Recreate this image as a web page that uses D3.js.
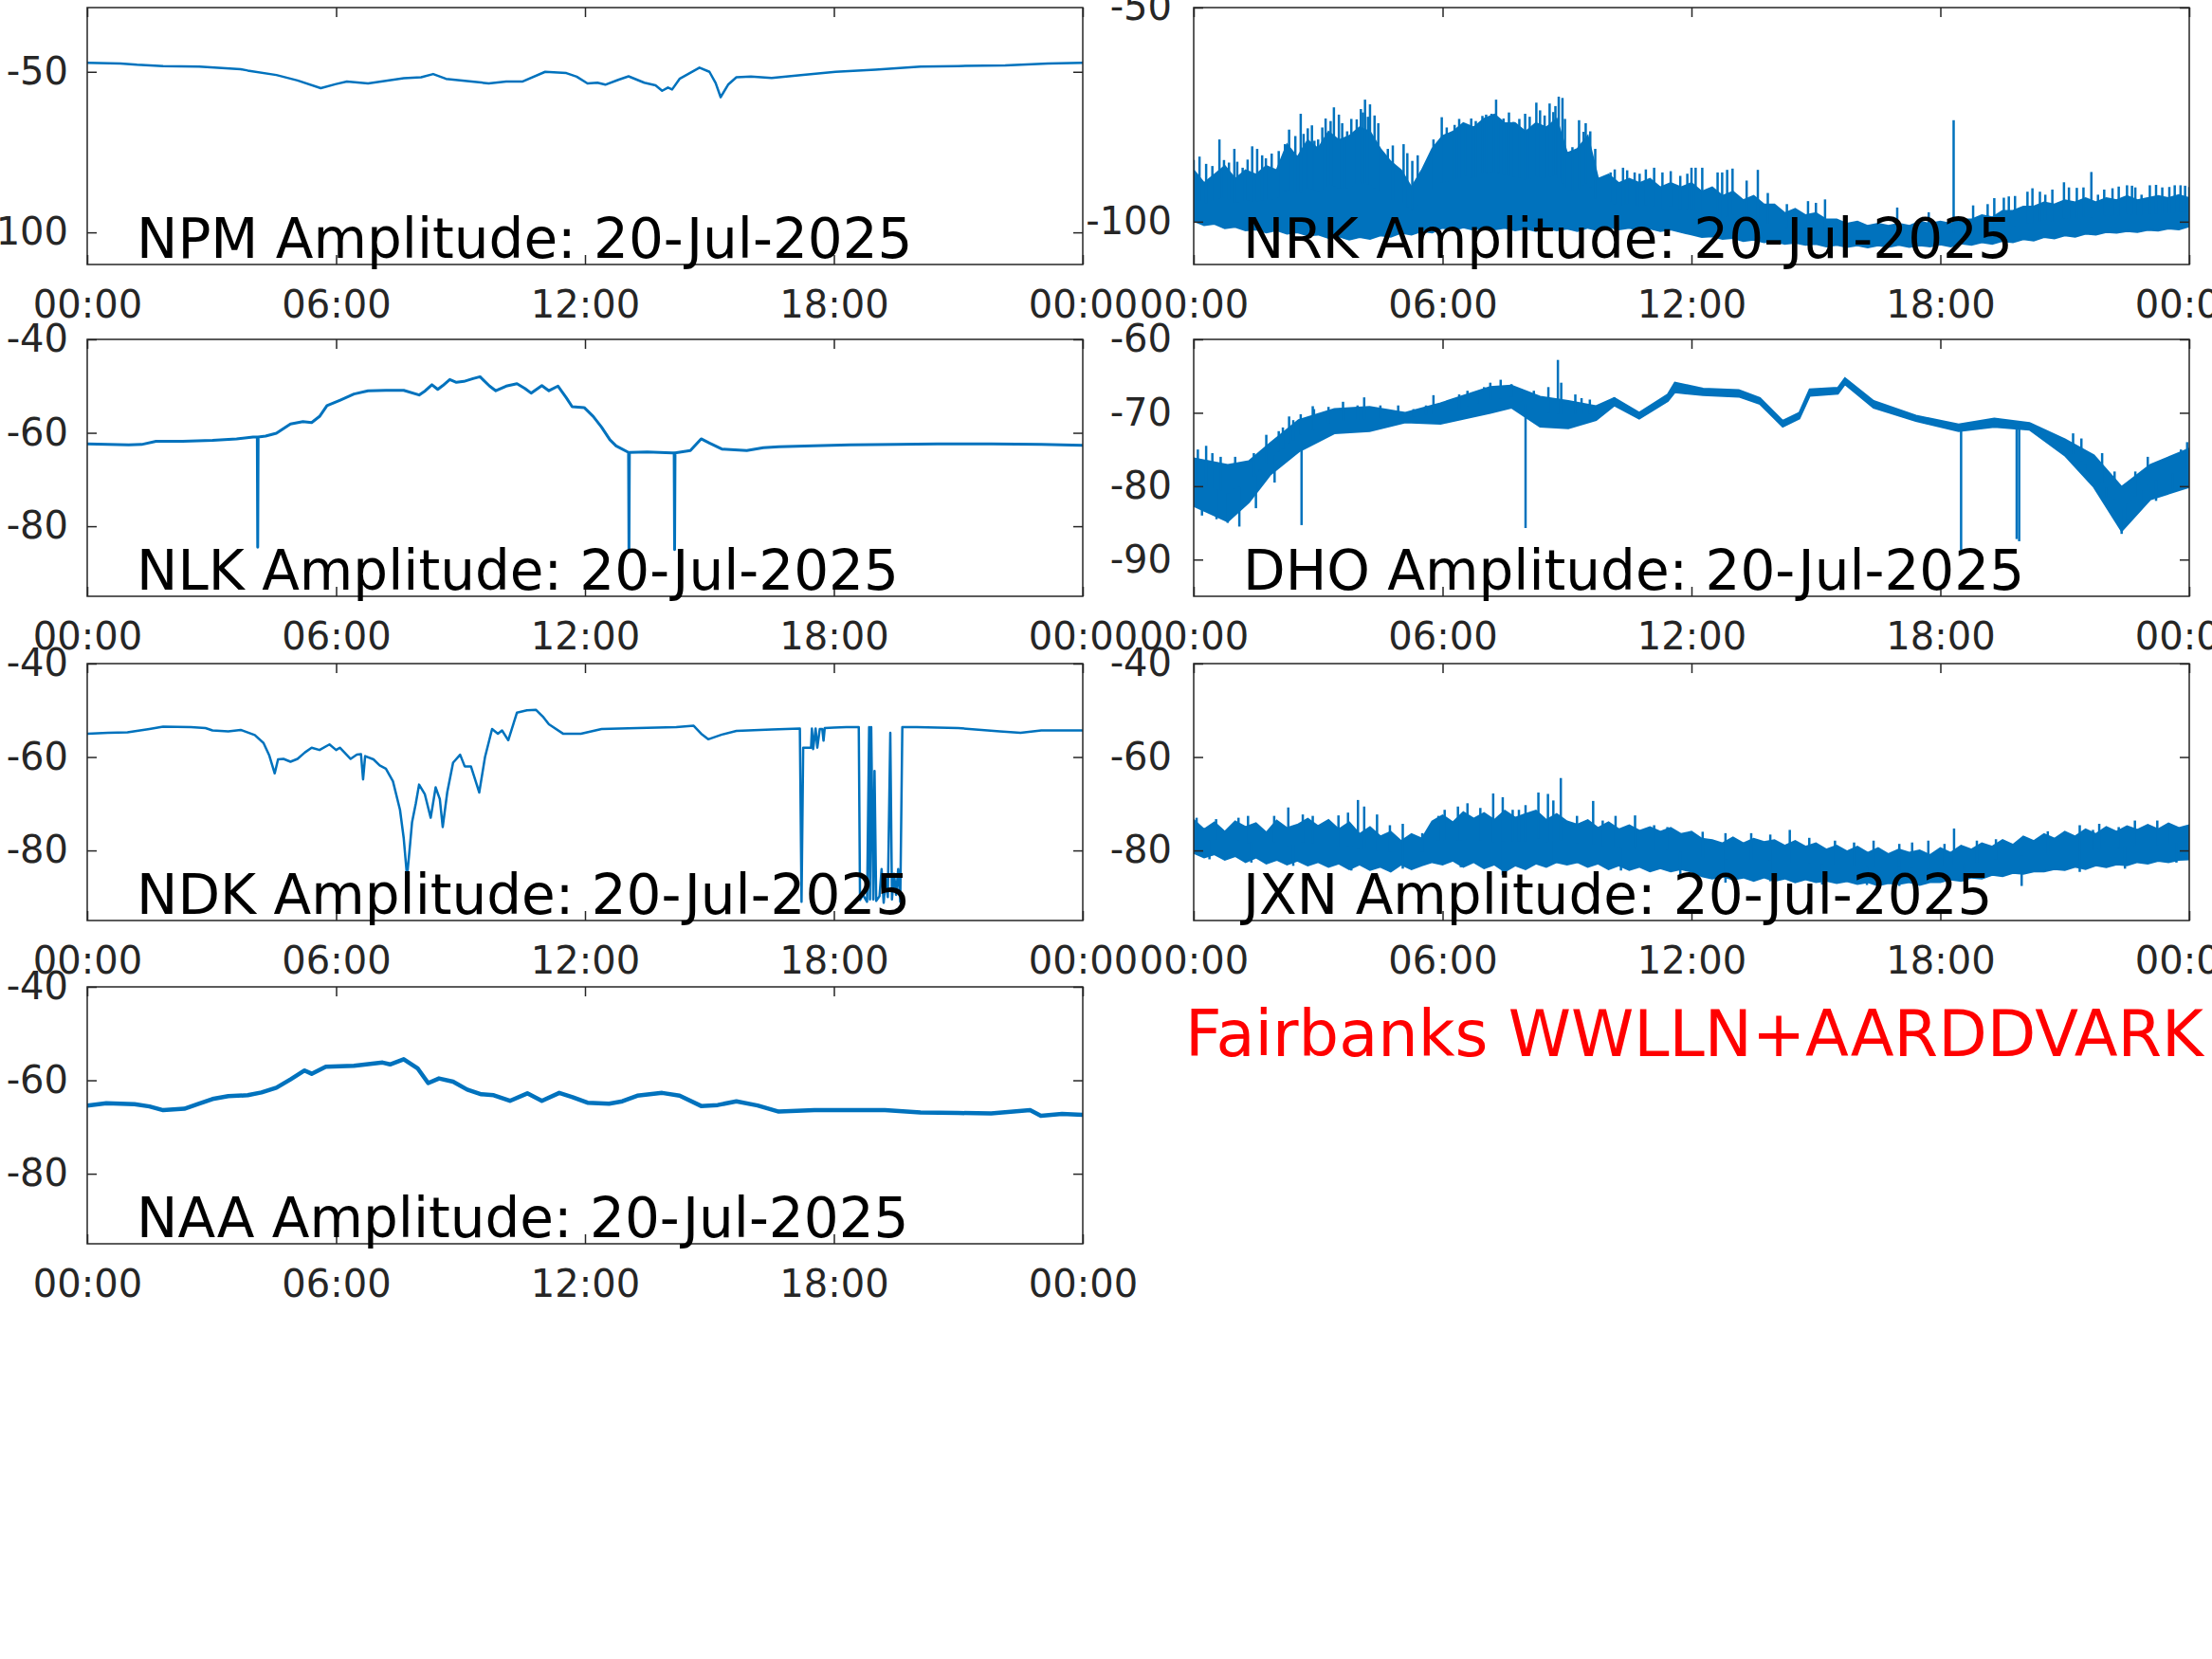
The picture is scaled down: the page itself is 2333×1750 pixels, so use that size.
<!DOCTYPE html>
<html><head><meta charset="utf-8">
<script src="https://cdn.jsdelivr.net/npm/d3@7"></script>
<style>
html,body{margin:0;padding:0;background:#fff;overflow:hidden}
svg{display:block}
</style></head><body>
<svg id="chart" width="2333" height="1750"></svg>
<script>
// ---------------- DATA ----------------
const dateLabel = "20-Jul-2025";
const footnote = "Fairbanks WWLLN+AARDDVARK";
const hourTicks = [0, 6, 12, 18, 24];
const hourTickLabels = ["00:00", "06:00", "12:00", "18:00", "00:00"];

// sample times (hours) of the envelope readings of the noisy records
const quarterHours = [0,0.25,0.5,0.75,1,1.25,1.5,1.75,2,2.25,2.5,2.75,3,3.25,3.5,3.75,4,4.25,4.5,4.75,5,5.25,5.5,5.75,6,6.25,6.5,6.75,7,7.25,7.5,7.75,8,8.25,8.5,8.75,9,9.25,9.5,9.75,10,10.25,10.5,10.75,11,11.25,11.5,11.75,12,12.25,12.5,12.75,13,13.25,13.5,13.75,14,14.25,14.5,14.75,15,15.25,15.5,15.75,16,16.25,16.5,16.75,17,17.25,17.5,17.75,18,18.25,18.5,18.75,19,19.25,19.5,19.75,20,20.25,20.5,20.75,21,21.25,21.5,21.75,22,22.25,22.5,22.75,23,23.25,23.5,23.75,24];

// NPM (thin line)
const npmT = [0,0.8,1.2,1.83,2.7,3.7,3.87,4.56,5.07,5.63,6.0,6.26,6.77,7.2,7.63,8.05,8.34,8.65,9.1,9.68,10.1,10.5,11.04,11.55,11.8,12.06,12.3,12.49,12.8,13.05,13.43,13.7,13.86,14.0,14.1,14.28,14.76,15.0,15.15,15.27,15.45,15.65,16.0,16.5,17.2,18.04,19.0,20.09,21.0,22.13,23.16,24];
const npmV = [-47.2,-47.4,-47.8,-48.2,-48.4,-49.2,-49.6,-51,-52.7,-55.1,-53.8,-53,-53.6,-52.8,-52,-51.7,-50.7,-52.2,-52.8,-53.6,-53,-53,-50,-50.4,-51.5,-53.6,-53.4,-54,-52.5,-51.4,-53.4,-54.2,-55.9,-54.9,-55.5,-52.2,-48.7,-50,-53.5,-57.9,-54,-51.7,-51.5,-51.9,-51,-50,-49.3,-48.4,-48.2,-48,-47.4,-47.2];

// NLK (thin line with drop-outs)
const nlkT = [0,0.5,1.0,1.31,1.66,2.3,3.02,3.6,4.0,4.1,4.11,4.12,4.3,4.56,4.9,5.2,5.41,5.6,5.78,6.1,6.43,6.77,7.2,7.63,8.0,8.15,8.31,8.45,8.57,8.74,8.9,9.08,9.3,9.47,9.7,9.85,10.1,10.36,10.55,10.7,10.96,11.13,11.35,11.55,11.69,11.98,12.2,12.4,12.6,12.75,13.05,13.06,13.07,13.5,14.1,14.15,14.16,14.17,14.54,14.8,15.0,15.31,15.9,16.3,16.67,17.5,18.38,19.5,20.5,21.8,23,24];
const nlkV = [-62.4,-62.5,-62.6,-62.5,-61.8,-61.8,-61.6,-61.3,-60.9,-60.9,-84.5,-60.9,-60.7,-60.1,-58.1,-57.6,-57.8,-56.5,-54.2,-53,-51.7,-51,-50.9,-50.9,-51.9,-51,-49.7,-50.7,-49.9,-48.6,-49.2,-49,-48.4,-48,-50,-51,-50,-49.5,-50.5,-51.5,-49.9,-51,-50,-52.5,-54.4,-54.6,-56.5,-58.8,-61.5,-62.8,-64.2,-84.9,-64.2,-64.1,-64.3,-64.3,-85,-64.3,-63.8,-61.3,-62.2,-63.5,-63.8,-63.2,-63,-62.8,-62.6,-62.5,-62.4,-62.4,-62.5,-62.7];

// NDK (thin line with drop-outs)
const ndkT = [0,0.5,0.97,1.5,1.83,2.5,2.85,3.02,3.4,3.7,4.04,4.25,4.39,4.52,4.6,4.73,4.9,5.07,5.25,5.41,5.6,5.84,6.0,6.09,6.35,6.5,6.6,6.65,6.7,6.9,7.05,7.2,7.37,7.54,7.63,7.71,7.78,7.83,7.92,8.0,8.14,8.28,8.4,8.5,8.57,8.68,8.82,8.99,9.1,9.25,9.45,9.59,9.76,9.9,10.0,10.15,10.36,10.6,10.82,11.0,11.13,11.47,11.9,12.4,13.26,14.2,14.62,14.8,14.97,15.3,15.65,16.5,17.18,17.22,17.26,17.45,17.47,17.5,17.56,17.6,17.66,17.72,17.75,17.78,18.0,18.3,18.6,18.63,18.7,18.8,18.85,18.87,18.9,18.95,18.98,19.02,19.1,19.15,19.2,19.25,19.3,19.36,19.4,19.45,19.5,19.55,19.6,19.65,20,21,22,22.5,23,24];
const ndkV = [-55,-54.8,-54.7,-54,-53.5,-53.6,-53.8,-54.3,-54.5,-54.2,-55.3,-57,-59.7,-63.5,-60.5,-60.4,-61,-60.4,-59,-58,-58.5,-57.3,-58.5,-58,-60.4,-59.5,-59.4,-64.8,-59.8,-60.5,-61.8,-62.5,-65.2,-71.3,-77.4,-85.6,-79,-74,-70,-65.9,-68,-73,-66.5,-69,-75,-67.5,-61.2,-59.5,-62,-62,-67.6,-60,-54,-55,-54.3,-56.4,-50.5,-50,-49.9,-51.5,-53,-55,-55,-54,-53.8,-53.6,-53.3,-55,-56.2,-55.2,-54.4,-54.1,-53.9,-91,-58,-58,-53.9,-58.3,-53.9,-58,-54,-54,-56.5,-53.8,-53.7,-53.6,-53.6,-90.6,-89.5,-91,-53.6,-90.5,-53.6,-90.5,-63,-90.8,-89.8,-84,-91.2,-86,-90,-54.8,-90.5,-85,-89.5,-84,-91,-53.6,-53.6,-53.8,-54.5,-54.8,-54.3,-54.3];

// NAA (thin line)
const naaT = [0,0.46,1.14,1.5,1.83,2.34,2.7,3.02,3.4,3.87,4.2,4.56,4.9,5.24,5.41,5.75,6.43,7.12,7.3,7.63,7.97,8.22,8.48,8.82,9.16,9.5,9.8,10.19,10.61,10.96,11.38,11.7,12.06,12.58,12.9,13.26,13.86,14.28,14.8,15.2,15.65,16.16,16.67,17.53,18.38,19.23,20.09,21.0,21.79,22.73,22.99,23.5,24];
const naaV = [-65.4,-64.9,-65.1,-65.6,-66.4,-66.1,-65,-64,-63.4,-63.2,-62.6,-61.6,-59.8,-57.9,-58.6,-57.1,-56.9,-56.2,-56.6,-55.5,-57.5,-60.6,-59.6,-60.3,-62,-63,-63.2,-64.4,-62.8,-64.4,-62.7,-63.6,-64.8,-65,-64.5,-63.3,-62.7,-63.3,-65.5,-65.3,-64.5,-65.4,-66.7,-66.4,-66.4,-66.4,-66.9,-67,-67.1,-66.4,-67.6,-67.2,-67.4];

// NRK (noisy: envelope band + spikes), envelope read every quarter hour
const nrkUpper = [-88,-91,-89,-87,-90,-88,-89,-87,-88,-82,-85,-81,
  -83,-79,-81,-80,-78,-79,-83,-86,-88,-92,-88,-83,
  -80,-79,-77,-78,-76,-75,-77,-77,-79,-77,-78,-76,
  -84,-83,-80,-90,-89,-91,-90,-91,-90,-92,-91,-92,
  -91,-93,-92,-94,-93,-95,-94,-96,-96,-98,-97,-98.5,
  -98,-99.5,-99.5,-100.5,-100,-101,-100.5,-101,-100.5,-101,-100,-100.5,
  -100,-100.5,-99.5,-99.5,-98.5,-99,-97.5,-97.5,-96.5,-96.5,-95.5,-96,
  -95,-95.5,-94.5,-95.5,-94.5,-95,-94,-95,-94.5,-94,-94.5,-93.8,-94.5];
const nrkLower = [-99.8,-100.8,-100.5,-101.5,-101.2,-102,-101.8,-102.5,-102,-102.8,-102.5,-103.2,
  -103,-103.8,-103.4,-104.2,-103.6,-104,-103.2,-103.5,-102.6,-103,-102.2,-102.5,
  -101.4,-102,-101.3,-101.9,-101.2,-101.8,-101.4,-102,-101.6,-102.2,-101.5,-102,
  -101.6,-102.2,-101.4,-102,-101.2,-101.8,-101.4,-102,-101.6,-102.2,-101.8,-102.4,
  -103,-103.6,-103.4,-104,-103.8,-104.5,-104.2,-104.8,-104.6,-105.2,-104.9,-105.4,
  -105.2,-105.8,-105.4,-105.9,-105.5,-106,-105.5,-105.9,-105.4,-105.9,-105.5,-105.8,
  -105.3,-105.8,-105.1,-105.4,-104.8,-105.2,-104.5,-104.8,-104.1,-104.4,-103.6,-103.9,
  -103.2,-103.5,-102.8,-103,-102.4,-102.6,-102.2,-102.4,-101.9,-102.1,-101.6,-101.8,-101.1];
const nrkSpikeT = [0,0.14,0.3,0.45,0.62,0.73,0.85,0.98,1.05,1.18,1.3,1.41,1.53,1.65,1.74,1.88,2.05,2.2,2.3,2.45,2.58,2.65,2.75,2.85,2.91,3.0,3.1,3.18,3.3,3.38,3.5,3.58,3.7,3.8,3.93,4.03,4.08,4.13,4.2,4.25,4.36,4.45,4.68,4.8,5.06,5.15,5.27,5.4,5.78,5.98,6.1,6.29,6.4,6.55,6.69,6.8,6.96,7.05,7.18,7.29,7.35,7.47,7.6,7.71,7.85,7.99,8.1,8.26,8.35,8.46,8.58,8.67,8.72,8.8,8.89,8.95,9.13,9.29,9.4,9.45,9.56,9.68,10.05,10.15,10.35,10.45,10.63,10.75,10.9,11.1,11.3,11.5,11.73,11.9,12.0,12.1,12.26,12.63,12.74,12.86,12.99,13.33,13.6,13.84,14.3,14.81,15.0,15.22,16.96,17.72,18.32,18.79,19.14,19.3,19.53,19.65,19.8,20.1,20.22,20.4,20.53,20.7,20.98,21.1,21.29,21.45,21.64,21.8,21.95,22.15,22.3,22.5,22.62,22.7,22.85,23.05,23.2,23.35,23.52,23.65,23.79,23.9,24];
const nrkSpikeV = [-85.6,-84.8,-86.5,-87,-80.8,-85.6,-86.2,-83,-86,-87.4,-85.5,-82.4,-83,-84.5,-85.2,-84.1,-83.5,-81.9,-78.5,-80,-74.8,-79.5,-78.2,-77.5,-81.1,-80.8,-78,-75.9,-76.5,-73.3,-75,-77,-78.9,-76,-76.1,-73.7,-74.5,-71.5,-75.5,-72.6,-75.2,-77,-83,-82.2,-81.9,-84,-85.8,-84.5,-80.8,-75.6,-78,-77.4,-76,-77.5,-75.9,-76.5,-75.3,-75,-74.8,-71.5,-76.2,-75.9,-74.5,-76.7,-76,-74.8,-75.5,-72.2,-74,-75.2,-72.4,-74.4,-73,-70.8,-71.1,-76,-82.6,-76.3,-79,-77,-78.9,-83,-88.5,-87.8,-87.4,-88,-88.5,-88.8,-87.8,-87.4,-88.5,-88.2,-89.3,-88.8,-87.4,-87.4,-87.4,-88.5,-88.5,-87.9,-87.6,-90.4,-87.9,-93.3,-95.9,-95.2,-95.6,-94.8,-96.7,-97.8,-76.3,-96.2,-95.9,-94.5,-94.4,-94.1,-94,-93,-92.2,-93,-93.7,-92.5,-90.8,-92,-92.1,-92,-88.4,-93.7,-92.5,-92.2,-91.8,-91.5,-91.6,-92,-93.7,-91.5,-91.4,-92,-91.9,-91.5,-91.5,-91.6,-91.9];

// DHO (noisy: envelope band + spikes)
const dhoT = [0,0.82,1.33,1.85,2.53,3.39,4.24,5.1,5.95,7.15,7.66,8.35,9.03,9.7,10.14,10.74,11.43,11.6,12.28,13.14,13.65,14.2,14.6,14.85,15.53,15.7,16.39,17.41,18.44,19.3,20.15,21.0,21.7,22.37,23.06,24];
const dhoUpper = [-76.2,-77.1,-76.6,-74.1,-71,-69.5,-69.2,-70,-68.7,-66.5,-66.3,-67.8,-68.4,-69.1,-68,-70,-67.5,-65.9,-66.7,-66.9,-68,-71.1,-70,-66.8,-66.6,-65.3,-68.4,-70.4,-71.6,-70.8,-71.4,-73.6,-75.8,-80.1,-77.1,-74.9];
const dhoLower = [-82.7,-84.8,-82.2,-78.4,-75.3,-72.8,-72.5,-71.3,-71.5,-70,-69.3,-71.9,-72.1,-71,-69,-70.8,-68.4,-67.2,-67.6,-67.8,-68.8,-71.9,-70.8,-67.7,-67.4,-66.1,-69.3,-71.1,-72.5,-71.9,-72.3,-75.8,-80.1,-86.1,-81.8,-80.1];
const dhoSpikeT = [0.1,0.2,0.3,0.45,0.55,0.65,0.82,1.0,1.1,1.45,1.5,1.6,1.75,1.95,2.05,2.15,2.3,2.4,2.58,2.6,2.87,2.9,3.25,3.6,3.95,4.11,4.5,4.93,5.3,5.6,5.78,6.2,6.4,6.6,6.85,7.0,7.15,7.4,7.66,7.9,8.0,8.2,8.55,8.78,8.86,9.2,9.35,9.55,10.14,18.5,19.84,19.9,21.2,21.4,21.5,21.9,22.0,22.2,22.37,22.5,22.6,22.7,22.85,23.0,23.2,23.4,23.6,23.8,23.95];
const dhoSpikeV = [-75,-84,-74.5,-75.5,-84.5,-76,-85,-76,-85.5,-75.5,-83,-78,-73,-79.5,-72.5,-72,-70.5,-71,-70.2,-85.3,-69.1,-69.5,-69.2,-68.5,-69,-67.9,-69,-69,-69.5,-69,-67.6,-68.5,-67.5,-67,-67.5,-66.5,-65.9,-65.5,-66.1,-66.8,-85.7,-67,-66.5,-62.8,-65.9,-67.5,-68,-68.2,-67.9,-88.7,-87.2,-87.5,-72.8,-73.5,-78.5,-75.5,-81.5,-78,-86.5,-84.5,-84.5,-78,-83,-76,-82,-76.5,-80.5,-75,-74];

// JXN (noisy: envelope band + spikes), envelope read every quarter hour
const jxnUpper = [-73.5,-75.5,-74,-76,-73.8,-75,-74.2,-76.2,-73.6,-75.2,-74.5,-73.2,
  -74.8,-73.5,-75.5,-74,-76.5,-75,-77,-76,-78,-76.5,-77.5,-73.8,
  -72.5,-74,-71.8,-73.2,-72,-73.5,-71.5,-73,-72.2,-71.5,-73.5,-72.2,
  -73.8,-74.5,-73.5,-75.2,-74,-75.5,-74.6,-75.8,-75,-76,-75.2,-76.5,
  -76,-77.5,-77.8,-78.5,-77.2,-78.5,-77.5,-78.2,-77.8,-79,-78,-79.2,
  -78.5,-79.8,-79,-80.2,-79.2,-80.5,-79.5,-80.8,-79.8,-80.5,-80,-81,
  -79.5,-80.5,-79,-79.8,-78.5,-79.2,-77.8,-78.8,-77,-78,-76.5,-77.5,
  -76,-77,-75.5,-76.5,-75,-76,-74.8,-75.6,-74.5,-75.5,-74.2,-75.2,-74.6];
const jxnLower = [-80.5,-81.5,-80.8,-82,-81.2,-82.5,-81.5,-82.8,-82,-83,-82.2,-83.2,
  -82.5,-83.5,-82.8,-84,-83,-84.2,-83.5,-84.5,-83,-84,-83.2,-82.5,
  -83,-82.2,-83.5,-82.5,-83.8,-83,-84.5,-83.2,-84,-82.8,-83.5,-82.5,
  -83,-82.5,-83.5,-82.8,-84,-83.2,-84.2,-83.5,-84.5,-83.8,-84.5,-84,
  -84.5,-85.5,-86,-85.5,-86.2,-85.8,-86.5,-85.8,-86.5,-86,-86.8,-86.2,
  -86.8,-86.5,-87,-86.6,-87.2,-86.8,-87.5,-87,-87.2,-86.8,-87.4,-86.8,
  -86.8,-86.2,-86.5,-85.8,-86,-85.2,-85.5,-84.8,-85,-84.5,-84.5,-84,
  -84.2,-83.5,-84,-83.2,-83.6,-83,-83.2,-82.5,-82.8,-82.2,-82.5,-82,-81.9];
const jxnSpikeT = [0.07,0.54,1.08,1.31,1.94,2.28,2.63,2.87,3.49,3.72,3.96,4.11,4.42,4.73,5.04,5.51,5.9,6.05,6.37,6.6,6.91,7.22,7.45,7.69,7.84,8.0,8.31,8.54,8.67,8.85,9.24,9.63,9.86,10.17,10.64,11.1,11.42,12.27,12.82,13.44,13.9,14.37,14.84,15.46,15.92,16.39,17.01,17.32,17.71,18.1,18.33,18.88,19.34,19.96,20.59,21.36,21.68,21.83,22.3,22.69,23.23,23.54,24,
  0.38,1.39,2.4,3.8,5.04,6.44,7.45,8.62,10.3,11.73,12.82,13.9,15.15,16.23,17.01,18.57,19.96,21.36,22.45,23.69];
const jxnSpikeV = [-73,-73.3,-73,-72.6,-72.6,-70.8,-72.3,-72.6,-72.5,-71.9,-69.2,-70.6,-72.3,-74.6,-74.3,-76.3,-72.6,-71.3,-70.6,-69.9,-70.9,-67.8,-68.6,-71.3,-71.3,-70.3,-67.6,-67.9,-69.3,-64.5,-72.6,-69.4,-73.6,-72.6,-72.5,-74.6,-75,-76,-76.3,-76.3,-76.6,-75.6,-77.3,-77.9,-78.3,-77.9,-78.6,-78.3,-77.9,-78.6,-75.3,-77.9,-77.6,-77.6,-75.9,-74.6,-75.6,-74.3,-75,-73.6,-73.6,-74.3,-74.6,
  -81.9,-82.6,-83.3,-84.3,-83.9,-83.6,-85.3,-82.6,-84.3,-85.9,-86.9,-86.6,-87.3,-87.4,-87.6,-86.6,-87.6,-84.6,-83.9,-82.6];

// ---------------- LAYOUT ----------------
const svg = d3.select("#chart");
const PW = 1050, PH = 271;
const colX = [92, 1259];
const rowY = [8, 358, 700, 1041];
const blue = "#0072BD";
const axisColor = "#262626";
const font = "'DejaVu Sans', sans-serif";

const panels = [
  {name:"NPM", col:0, row:0, domain:[-110,-30], ticks:[-100,-50], kind:"line", t:npmT, v:npmV, sw:2.5},
  {name:"NRK", col:1, row:0, domain:[-110,-50], ticks:[-100,-50], kind:"band", t:quarterHours, up:nrkUpper, lo:nrkLower, st:nrkSpikeT, sv:nrkSpikeV},
  {name:"NLK", col:0, row:1, domain:[-95,-40], ticks:[-80,-60,-40], kind:"line", t:nlkT, v:nlkV, sw:3},
  {name:"DHO", col:1, row:1, domain:[-95,-60], ticks:[-90,-80,-70,-60], kind:"band", t:dhoT, up:dhoUpper, lo:dhoLower, st:dhoSpikeT, sv:dhoSpikeV},
  {name:"NDK", col:0, row:2, domain:[-95,-40], ticks:[-80,-60,-40], kind:"line", t:ndkT, v:ndkV, sw:2.5},
  {name:"JXN", col:1, row:2, domain:[-95,-40], ticks:[-80,-60,-40], kind:"band", t:quarterHours, up:jxnUpper, lo:jxnLower, st:jxnSpikeT, sv:jxnSpikeV},
  {name:"NAA", col:0, row:3, domain:[-95,-40], ticks:[-80,-60,-40], kind:"line", t:naaT, v:naaV, sw:4.5}
];

const defs = svg.append("defs");

panels.forEach((p, i) => {
  const x0 = colX[p.col], y0 = rowY[p.row];
  const g = svg.append("g").attr("transform", `translate(${x0},${y0})`);
  const x = d3.scaleLinear().domain([0, 24]).range([0, PW]);
  const y = d3.scaleLinear().domain(p.domain).range([PH, 0]);

  defs.append("clipPath").attr("id", "clip" + i)
    .append("rect").attr("width", PW).attr("height", PH);
  const plot = g.append("g").attr("clip-path", `url(#clip${i})`);

  if (p.kind === "line") {
    const line = d3.line().x(d => x(d[0])).y(d => y(d[1]));
    plot.append("path").datum(d3.zip(p.t, p.v))
      .attr("d", line).attr("fill", "none").attr("stroke", blue)
      .attr("stroke-width", p.sw).attr("stroke-linejoin", "round");
  } else {
    const rows = p.t.map((t, k) => ({t, up: p.up[k], lo: p.lo[k]}));
    const area = d3.area().x(d => x(d.t)).y0(d => y(d.lo)).y1(d => y(d.up));
    plot.append("path").datum(rows).attr("d", area)
      .attr("fill", blue).attr("stroke", blue).attr("stroke-width", 2)
      .attr("stroke-linejoin", "miter");
    const mid = t => {
      const k = Math.max(1, Math.min(p.t.length - 1, d3.bisectLeft(p.t, t)));
      const a = p.t[k-1], b = p.t[k];
      const f = b === a ? 0 : (t - a) / (b - a);
      const m0 = (p.up[k-1] + p.lo[k-1]) / 2, m1 = (p.up[k] + p.lo[k]) / 2;
      return m0 + f * (m1 - m0);
    };
    plot.selectAll("line.spike").data(d3.zip(p.st, p.sv)).join("line")
      .attr("class", "spike")
      .attr("x1", d => x(d[0])).attr("x2", d => x(d[0]))
      .attr("y1", d => y(mid(d[0]))).attr("y2", d => y(d[1]))
      .attr("stroke", blue).attr("stroke-width", 2.5);
  }

  // axes
  const styleAxis = sel => {
    sel.attr("color", axisColor).attr("font-size", 40).attr("font-family", font);
    sel.select(".domain").remove();
    sel.selectAll(".tick line").attr("stroke-width", 1.5);
  };
  g.append("g").attr("transform", `translate(0,${PH})`)
    .call(d3.axisBottom(x).tickValues(hourTicks).tickFormat((d, k) => hourTickLabels[k])
      .tickSizeInner(-10).tickSizeOuter(0).tickPadding(28))
    .call(styleAxis);
  g.append("g")
    .call(d3.axisTop(x).tickValues(hourTicks).tickFormat("").tickSizeInner(-10).tickSizeOuter(0))
    .call(styleAxis);
  g.append("g")
    .call(d3.axisLeft(y).tickValues(p.ticks).tickFormat(d => String(d))
      .tickSizeInner(-10).tickSizeOuter(0).tickPadding(p.col === 0 ? 20 : 23))
    .call(styleAxis);
  g.append("g").attr("transform", `translate(${PW},0)`)
    .call(d3.axisRight(y).tickValues(p.ticks).tickFormat("").tickSizeInner(-10).tickSizeOuter(0))
    .call(styleAxis);

  g.append("rect").attr("width", PW).attr("height", PH)
    .attr("fill", "none").attr("stroke", axisColor).attr("stroke-width", 1.5);

  g.append("text").attr("x", 52).attr("y", PH - 7.5)
    .attr("font-family", font).attr("font-size", 58).attr("fill", "#000")
    .text(`${p.name} Amplitude: ${dateLabel}`);
});

svg.append("text").attr("x", 1250).attr("y", 1114)
  .attr("font-family", font).attr("font-size", 67).attr("fill", "#ff0000")
  .text(footnote);
</script>
</body></html>
